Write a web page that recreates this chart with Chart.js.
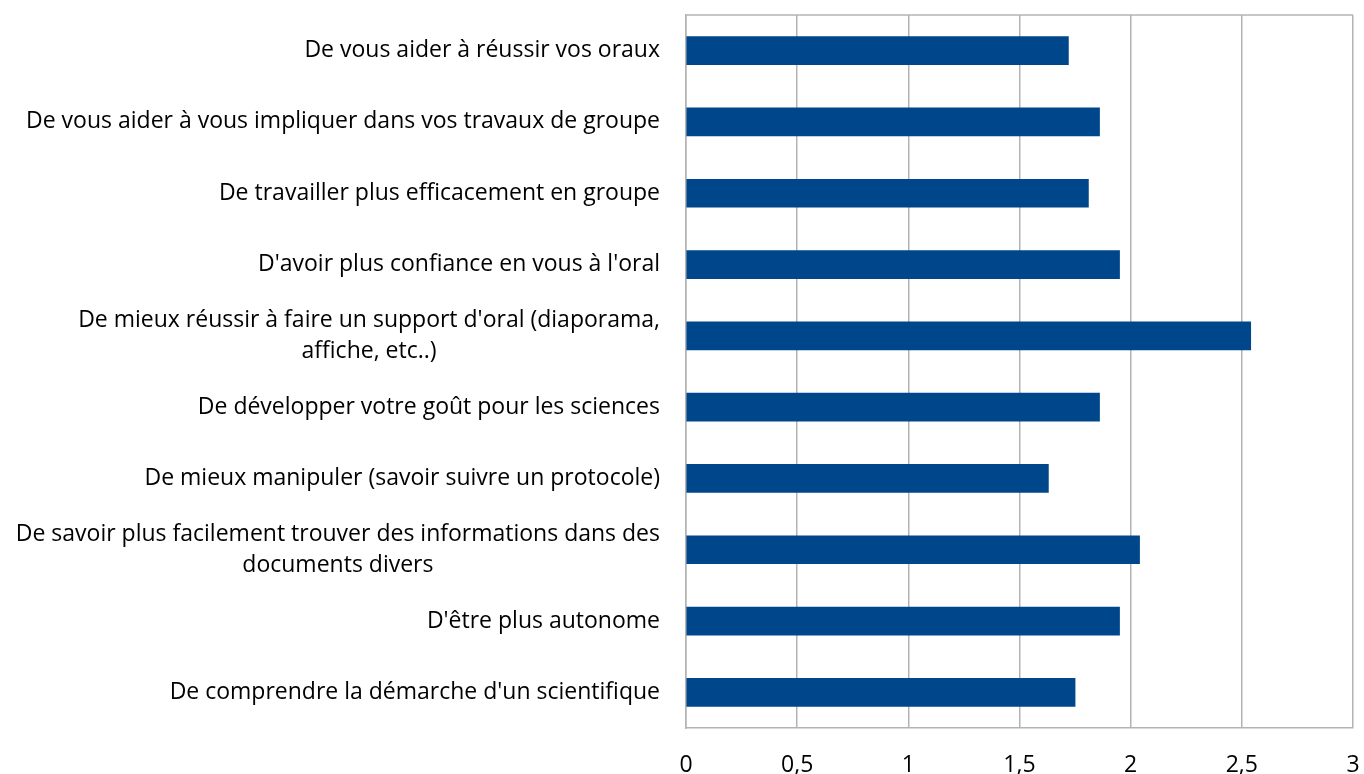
<!DOCTYPE html>
<html>
<head>
<meta charset="utf-8">
<script src="https://cdn.jsdelivr.net/npm/chart.js@4/dist/chart.umd.min.js"></script>
<style>
html,body{margin:0;padding:0;background:#fff;}
#wrap{width:1364px;height:774px;position:relative;}
</style>
</head>
<body>
<div id="wrap"><canvas id="c"></canvas></div>
<script>
const categories = [
  ["De vous aider à réussir vos oraux"],
  ["De vous aider à vous impliquer dans vos travaux de groupe"],
  ["De travailler plus efficacement en groupe"],
  ["D'avoir plus confiance en vous à l'oral"],
  ["De mieux réussir à faire un support d'oral (diaporama,", "affiche, etc..)"],
  ["De développer votre goût pour les sciences"],
  ["De mieux manipuler (savoir suivre un protocole)"],
  ["De savoir plus facilement trouver des informations dans des", "documents divers"],
  ["D'être plus autonome"],
  ["De comprendre la démarche d'un scientifique"]
];
const values = [1.72, 1.86, 1.81, 1.95, 2.54, 1.86, 1.63, 2.04, 1.95, 1.75];
const xTicks = ["0", "0,5", "1", "1,5", "2", "2,5", "3"];

const FONT = "'Open Sans', 'Liberation Sans', sans-serif";
const FSIZE = 23;
const LINE_H = 31;

const labelPlugin = {
  id: 'catLabels',
  afterDraw(chart) {
    const ctx = chart.ctx;
    const y = chart.scales.y;
    const area = chart.chartArea;
    ctx.save();
    ctx.font = FSIZE + "px " + FONT;
    ctx.fillStyle = '#000';
    ctx.textBaseline = 'middle';
    categories.forEach((lines, i) => {
      const cy = y.getPixelForTick(i);
      const widths = lines.map(l => ctx.measureText(l).width);
      const w = Math.max(...widths);
      const right = area.left - 26;
      const cx = right - w / 2;
      ctx.textAlign = 'center';
      lines.forEach((l, j) => {
        const ly = cy + (j - (lines.length - 1) / 2) * LINE_H;
        ctx.fillText(l, cx, ly);
      });
    });
    ctx.strokeStyle = '#b3b3b3';
    ctx.lineWidth = 1.5;
    ctx.beginPath();
    ctx.moveTo(area.left, area.top);
    ctx.lineTo(area.right, area.top);
    ctx.stroke();
    ctx.restore();
  }
};

new Chart(document.getElementById('c'), {
  type: 'bar',
  data: {
    labels: categories.map(l => l.join(' ')),
    datasets: [{
      data: values,
      backgroundColor: '#00468a',
      borderWidth: 0,
      barThickness: 28
    }]
  },
  options: {
    indexAxis: 'y',
    responsive: true,
    maintainAspectRatio: false,
    animation: false,
    layout: { padding: { left: 686, right: 11, top: 15, bottom: 0 } },
    plugins: { legend: { display: false }, tooltip: { enabled: false } },
    scales: {
      x: {
        min: 0, max: 3,
        afterFit: (s) => { s.height = 46; s.paddingRight = 0; s.paddingLeft = 0; },
        ticks: {
          stepSize: 0.5,
          color: '#000',
          padding: 24,
          maxRotation: 0,
          font: { family: FONT, size: FSIZE },
          callback: (v, i) => xTicks[i]
        },
        grid: { color: '#b3b3b3', lineWidth: 1.5, drawTicks: false },
        border: { color: '#b3b3b3', width: 1.5 }
      },
      y: {
        ticks: { display: false },
        grid: { display: false, drawTicks: false },
        border: { color: '#b3b3b3', width: 1.5 }
      }
    }
  },
  plugins: [labelPlugin]
});
</script>
</body>
</html>
